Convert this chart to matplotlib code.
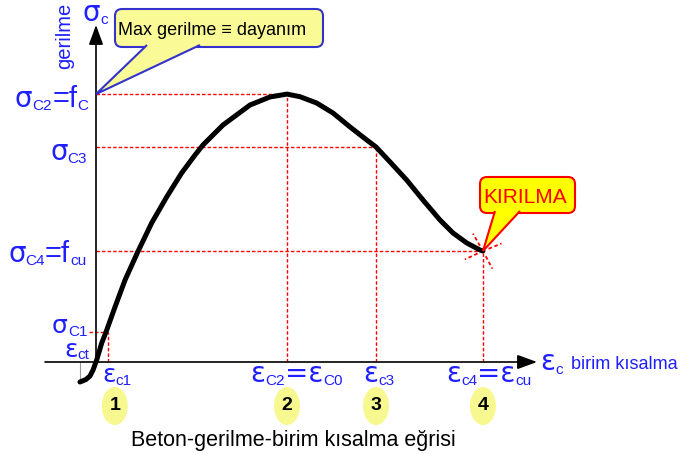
import numpy as np
import matplotlib.pyplot as plt
from matplotlib.patches import FancyBboxPatch, Polygon, Ellipse
from matplotlib.transforms import Affine2D

plt.rcParams['font.family'] = ['Liberation Sans', 'DejaVu Sans']

# stress-strain curve of concrete (strain in per mille, stress in MPa)
strain = [-0.168, -0.105, -0.063, -0.031, 0.007, 0.060, 0.105, 0.199, 0.304, 0.437,
          0.583, 0.740, 0.897, 1.037, 1.120, 1.330, 1.613, 1.822, 2.0, 2.136,
          2.311, 2.482, 2.660, 2.835, 2.932, 3.079, 3.253, 3.424, 3.602, 3.738,
          3.882, 4.021, 4.052]
stress = [-2.24, -1.96, -1.57, -0.90, 0.22, 2.13, 3.36, 6.16, 9.18, 12.32,
          15.57, 18.48, 21.17, 23.18, 24.30, 26.54, 28.78, 29.68, 30.0, 29.71,
          29.00, 27.88, 26.32, 24.86, 24.08, 22.40, 20.38, 18.14, 15.90, 14.45,
          13.33, 12.54, 12.43]

# marked points 1..4
eps_pts = [0.126, 2.0, 2.932, 4.052]
sig_pts = [3.36, 30.0, 24.08, 12.43]
point_no = ['1', '2', '3', '4']
eps_ct, sig_ct = -0.168, -2.24

BLUE = '#1f1fff'
RED = '#ff0000'

# pixel layout of the sheet
W, H = 687, 454
X0, Y0 = 96, 362          # origin in pixels
SX, SY = 95.5, 8.93       # pixels per unit

fig = plt.figure(figsize=(W / 100, H / 100), dpi=100)
ax = fig.add_axes([0, 0, 1, 1])
ax.set_xlim(-X0 / SX, (W - X0) / SX)
ax.set_ylim((Y0 - H) / SY, Y0 / SY)
ax.axis('off')
pix = Affine2D().scale(0.01, -0.01).translate(0, H / 100) + fig.dpi_scale_trans


def to_px(x, y):
    return X0 + SX * x, Y0 - SY * y


dash = (0, (2.5, 1.5))
for i, (e, s) in enumerate(zip(eps_pts, sig_pts)):
    xs = -0.07 if i == 0 else 0
    ax.plot([xs, e], [s, s], color=RED, lw=1, ls=dash, zorder=2)
    ax.plot([e, e], [0, s], color=RED, lw=1, ls=dash, zorder=2)
ax.plot([eps_ct, eps_ct], [sig_ct, 0], color='#999999', lw=0.8, zorder=2)

# axes with arrows
arr = dict(arrowstyle='-|>,head_length=0.6,head_width=0.22', mutation_scale=20,
           lw=1.2, color='black', shrinkA=0, shrinkB=0)
ax.annotate('', xy=((537 - X0) / SX, 0), xytext=((45 - X0) / SX, 0), arrowprops=arr, zorder=3)
ax.annotate('', xy=(0, (Y0 - 25) / SY), xytext=(0, 0), arrowprops=arr, zorder=3)

ax.plot(strain, stress, color='black', lw=3.6, solid_capstyle='round',
        solid_joinstyle='round', zorder=4)

# burst at fracture point
cx, cy = to_px(eps_pts[3], sig_pts[3])
for ang in [120, 205, 22, -62]:
    a = np.deg2rad(ang)
    ax.plot([cx + 6 * np.cos(a), cx + 20 * np.cos(a)],
            [cy - 6 * np.sin(a), cy - 20 * np.sin(a)],
            color=RED, lw=1.3, ls=(0, (2, 1.5)), transform=pix, zorder=4)


def callout(x0, y0, x1, y1, base, tip, fc, ec):
    box = FancyBboxPatch((x0, y0), x1 - x0, y1 - y0,
                         boxstyle='round,pad=0,rounding_size=7', transform=pix,
                         fc=fc, ec=ec, lw=1.5, zorder=5)
    ax.add_patch(box)
    tri = Polygon([(base[0], y1 - 2), tip, (base[1], y1 - 2)], closed=False,
                  transform=pix, fc=fc, ec=ec, lw=1.5, zorder=6)
    ax.add_patch(tri)


callout(115, 9, 323, 47, (147, 200), to_px(0, sig_pts[1]), '#fafa96', '#3333cc')
ax.text(118, 35, 'Max gerilme \u2261 dayan\u0131m', transform=pix, fontsize=13,
        ha='left', va='baseline', zorder=7)
callout(480, 177, 575, 213, (495, 520), (cx, cy), '#ffff00', RED)
ax.text(483, 203, 'KIRILMA', transform=pix, fontsize=15, color=RED,
        ha='left', va='baseline', zorder=7)


def chain(x, parts, color=BLUE):
    prev = None
    for s, fs, base, dx in parts:
        fam = ['DejaVu Sans'] if ('\u03c3' in s or '\u03b5' in s) else ['Liberation Sans', 'DejaVu Sans']
        if prev is None:
            prev = ax.text(x + dx, base, s, transform=pix, fontsize=fs, color=color,
                           family=fam, ha='left', va='baseline', zorder=7)
        else:
            prev = ax.annotate(s, xy=(1, base), xycoords=(prev, pix),
                               xytext=(dx * 0.72, 0), textcoords='offset points',
                               fontsize=fs, color=color, family=fam,
                               ha='left', va='baseline', zorder=7)


# stress labels
chain(82, [('\u03c3', 20, 21, 0), ('c', 11, 24, 1)])
chain(15, [('\u03c3', 20, 107, 0), ('C2', 11, 110, 0), ('=f', 21, 107, 0), ('C', 11, 110, 0)])
chain(50, [('\u03c3', 20, 160, 0), ('C3', 11, 163, 0)])
chain(8, [('\u03c3', 20, 262, 0), ('C4', 11, 265, 0), ('=f', 21, 262, 0), ('cu', 11, 265, 0)])
chain(52, [('\u03c3', 18, 333, 0), ('C1', 11, 336, 0)])
chain(64, [('\u03b5', 18, 357, 0), ('ct', 11, 359, 0)])

# strain labels
chain(102, [('\u03b5', 18, 382, 0), ('c1', 11, 385, 0)])
chain(250, [('\u03b5', 20, 382, 0), ('C2', 11, 385, 0), ('=\u03b5', 20, 382, 0), ('C0', 11, 385, 0)])
chain(363, [('\u03b5', 20, 382, 0), ('c3', 11, 385, 0)])
chain(446, [('\u03b5', 20, 382, 0), ('c4', 11, 385, 0), ('=\u03b5', 20, 382, 0), ('cu', 11, 385, 0)])
chain(540, [('\u03b5', 20, 370, 0), ('c', 11, 374, 0), ('birim k\u0131salma', 13, 369, 8)])

ax.text(65, 36, 'gerilme', rotation=90, transform=pix, fontsize=14.5, color=BLUE,
        ha='center', va='center')

# numbered points
num_dx = [0.07, 0, 0, 0]
y_num = (Y0 - 406) / SY
for e, d, n in zip(eps_pts, num_dx, point_no):
    ax.add_patch(Ellipse((e + d, y_num), 26 / SX, 38 / SY, fc='#f8f890', ec='none', zorder=5))
    ax.text(e + d, y_num, n, fontsize=14, fontweight='bold', ha='center', va='center', zorder=6)

ax.text(131, 446, 'Beton-gerilme-birim k\u0131salma e\u011frisi', transform=pix,
        fontsize=15.5, ha='left', va='baseline')

fig.savefig('out.png', dpi=100)
